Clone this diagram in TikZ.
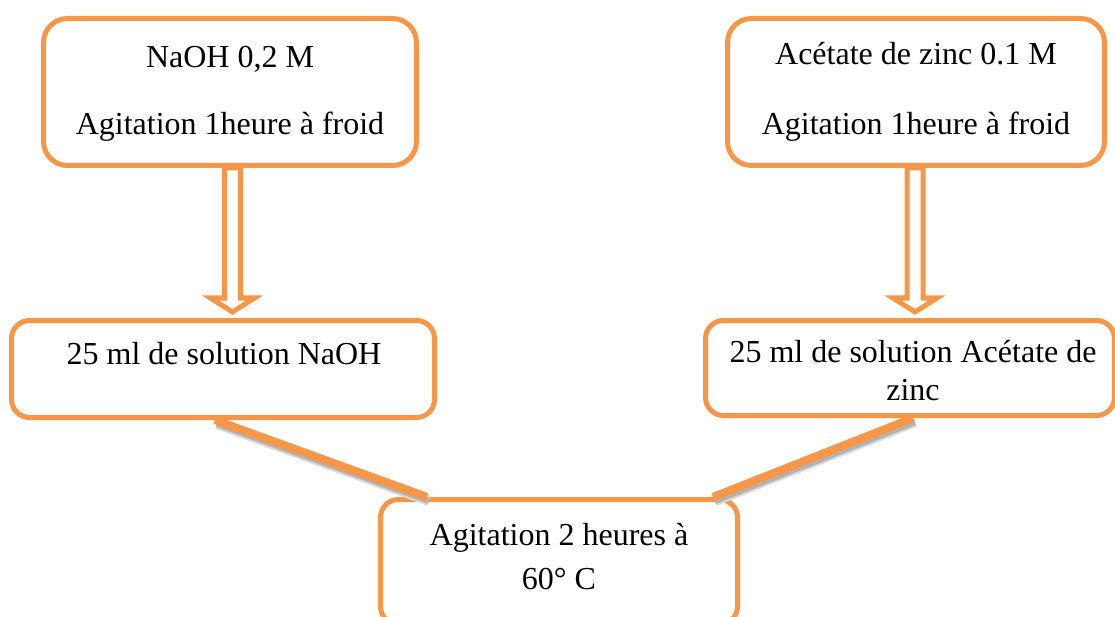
\documentclass[tikz,border=0pt]{standalone}
\usepackage{fontspec}
\setmainfont{Liberation Serif}
\usetikzlibrary{calc,positioning}
\definecolor{orangeW}{RGB}{247,150,70}
\tikzset{
    boite/.style={
           rectangle,
           rounded corners=18pt,
           draw=orangeW, line width=5pt,
           fill=white,
           inner sep=0pt},
    texte/.style={
           anchor=base,
           inner sep=0pt,
           font=\fontsize{32}{38}\selectfont},
    fleche/.style={
           draw=orangeW, fill=white,
           line width=5pt,
           line join=miter},
    liaison/.style={
           draw=orangeW, line width=8pt,
           preaction={draw=black!15, line width=10pt,
                      transform canvas={shift={(2pt,-4pt)}}},
           preaction={draw=black!30, line width=6pt,
                      transform canvas={shift={(2pt,-4pt)}}}}
}

\begin{document}
\begin{tikzpicture}[x=1pt, y=-1pt]
        \useasboundingbox (0,0) rectangle (1115,617);
        \clip (0,0) rectangle (1115,617);

        % boites
        \node[boite, rounded corners=24pt, minimum width=373pt, minimum height=147pt] (naoh) at (230,92) {};
        \node[boite, rounded corners=24pt, minimum width=377pt, minimum height=147pt] (acetate) at (916,92) {};
        \node[boite, minimum width=423pt, minimum height=97pt] (solnaoh) at (223,369) {};
        \node[boite, minimum width=409pt, minimum height=95pt] (solzinc) at (910,368) {};
        \node[boite, minimum width=357pt, minimum height=125pt] (melange) at (559,562) {};

        % textes
        \node[texte] (naoh1) at (230,68) {NaOH 0,2 M};
        \node[texte] (naoh2) at (230,135) {Agitation 1heure à froid};
        \node[texte] (acetate1) at (916,65) {Acétate de zinc 0.1 M};
        \node[texte] (acetate2) at (916,135) {Agitation 1heure à froid};
        \node[texte] (solnaoh1) at (224,364) {25 ml de solution NaOH};
        \node[texte] (solzinc1) at (913,362) {25 ml de solution Acétate de};
        \node[texte] (solzinc2) at (913,400) {zinc};
        \node[texte] (melange1) at (559,545) {Agitation 2 heures à};
        \node[texte] (melange2) at (559,589) {60° C};

        % fleches creuses
        \draw[fleche] let \p1=([xshift=2.5pt]naoh.south), \p2=(solnaoh.north) in
            (\x1-8pt,\y1) -- (\x1-8pt,\y2+20pt) -- (\x1-22pt,\y2+20pt) -- (\x1,\y2+6pt)
            -- (\x1+22pt,\y2+20pt) -- (\x1+8pt,\y2+20pt) -- (\x1+8pt,\y1) -- cycle;
        \draw[fleche] let \p1=([xshift=-1pt]acetate.south), \p2=(solzinc.north) in
            (\x1-8pt,\y1) -- (\x1-8pt,\y2+20pt) -- (\x1-22pt,\y2+20pt) -- (\x1,\y2+6pt)
            -- (\x1+22pt,\y2+20pt) -- (\x1+8pt,\y2+20pt) -- (\x1+8pt,\y1) -- cycle;

        % liaisons
        \draw[liaison] ([xshift=-8pt]solnaoh.south) -- ([xshift=-132pt]melange.north);
        \draw[liaison] ([xshift=3pt]solzinc.south) -- ([xshift=154pt]melange.north);

\end{tikzpicture}
\end{document}
